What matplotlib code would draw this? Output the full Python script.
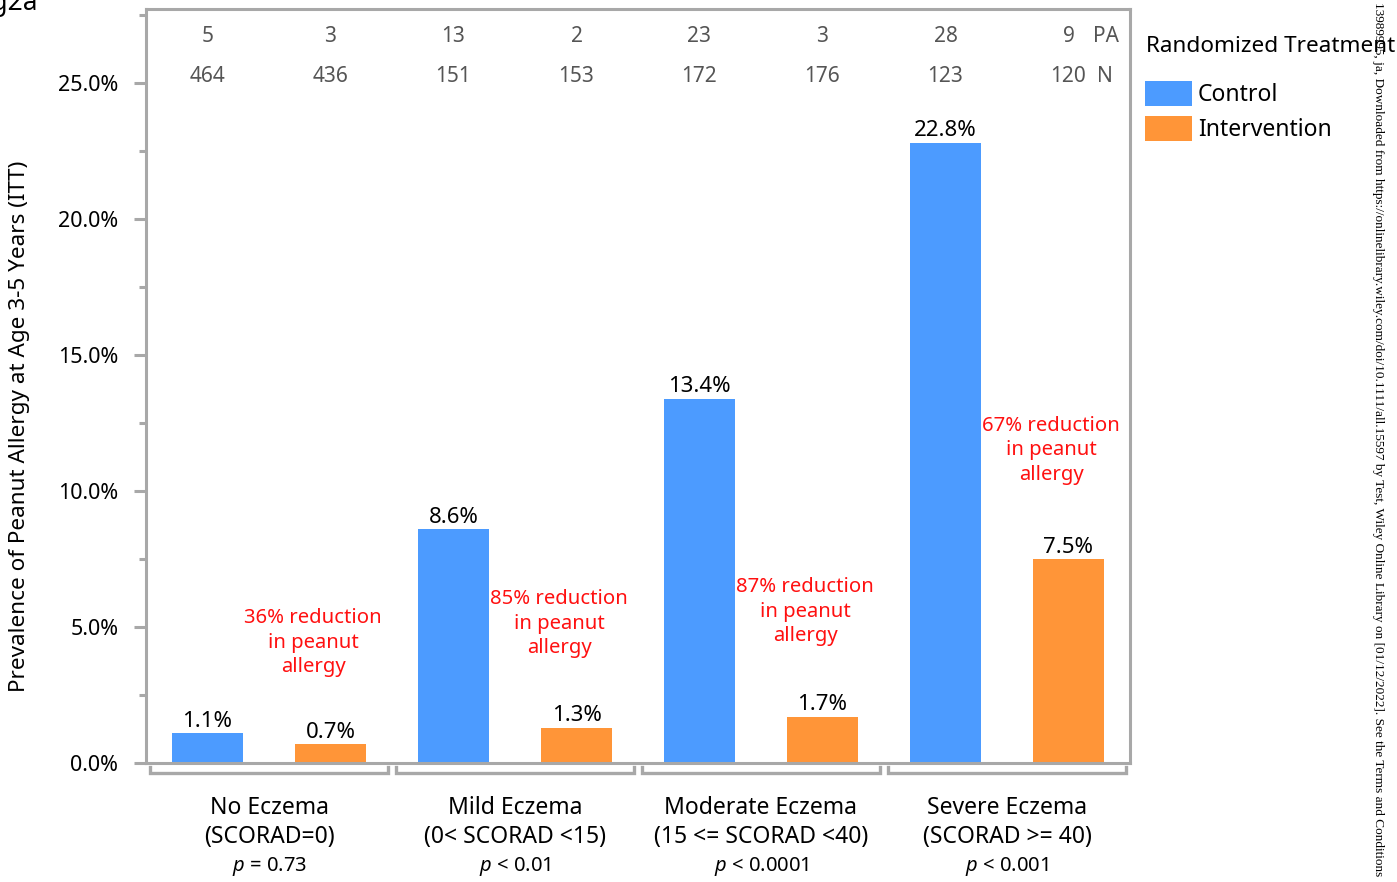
import matplotlib
matplotlib.use("Agg")
import matplotlib.pyplot as plt
from matplotlib.patches import Rectangle
from matplotlib.ticker import MultipleLocator, FuncFormatter
from matplotlib.transforms import blended_transform_factory
import numpy as np

# ---------------- data ----------------
groups = ["No Eczema", "Mild Eczema", "Moderate Eczema", "Severe Eczema"]
scorad = ["(SCORAD=0)", "(0< SCORAD <15)", "(15 <= SCORAD <40)", "(SCORAD >= 40)"]
pvals = ["= 0.73", "< 0.01", "< 0.0001", "< 0.001"]
series_names = ["Control", "Intervention"]
control = [1.1, 8.6, 13.4, 22.8]
intervention = [0.7, 1.3, 1.7, 7.5]
pa_control = [5, 13, 23, 28]
pa_interv = [3, 2, 3, 9]
n_control = [464, 151, 172, 123]
n_interv = [436, 153, 176, 120]
reductions = ["36%", "85%", "87%", "67%"]
red_text_y = [4.42, 5.12, 5.56, 11.49]  # vertical placement of annotations (%)

# ---------------- style ----------------
plt.rcParams['font.family'] = ['Noto Sans', 'DejaVu Sans']
plt.rcParams['mathtext.fontset'] = 'custom'
plt.rcParams['mathtext.it'] = 'Noto Sans:italic'
plt.rcParams['mathtext.rm'] = 'Noto Sans'

BLUE = "#4C9BFF"
ORANGE = "#FF9538"
GRAY = "#A8A8A8"
TXTGRAY = "#555555"

W, H = 1397, 882
fig = plt.figure(figsize=(W / 100, H / 100), dpi=100)
L, R, T, B = 146, 1130, 9, 763
ax = fig.add_axes([L / W, 1 - B / H, (R - L) / W, (B - T) / H])

xc = np.arange(len(groups)) * 2
xi = xc + 1
bw = 0.57
ax.bar(xc, control, width=bw, color=BLUE, zorder=2)
ax.bar(xi, intervention, width=bw, color=ORANGE, zorder=2)

ax.set_xlim(-0.5, 7.5)
ax.set_ylim(0, 27.72)

for s in ax.spines.values():
    s.set_color(GRAY)
    s.set_linewidth(2.2)

ax.yaxis.set_major_locator(MultipleLocator(5))
ax.yaxis.set_minor_locator(MultipleLocator(2.5))
ax.yaxis.set_major_formatter(FuncFormatter(lambda v, p: f"{v:.1f}%"))
ax.tick_params(axis='y', which='major', length=9, width=2.2, color=GRAY,
               labelsize=15.5, pad=11, labelcolor='black')
ax.tick_params(axis='y', which='minor', length=5, width=2.2, color=GRAY)
ax.set_xticks([])

# value labels
for x, v in zip(xc, control):
    ax.annotate(f"{v:.1f}%", (x, v), xytext=(0, 1.0), textcoords='offset points',
                ha='center', va='bottom', fontsize=16, color='black')
for x, v in zip(xi, intervention):
    ax.annotate(f"{v:.1f}%", (x, v), xytext=(0, 1.0), textcoords='offset points',
                ha='center', va='bottom', fontsize=16, color='black')

# reduction annotations
for x, r, y in zip(xi, reductions, red_text_y):
    ax.text(x - 0.14, y, f"{r} reduction\nin peanut\nallergy", ha='center', va='center',
            color='#FF1010', fontsize=14.6, linespacing=1.3)

# counts along top
tb = blended_transform_factory(ax.transData, ax.transAxes)
ya_pa = (B - 37) / (B - T)
ya_n = (B - 77) / (B - T)
for x, pa, n in zip(xc, pa_control, n_control):
    ax.text(x, ya_pa, str(pa), ha='center', va='center', fontsize=15, color=TXTGRAY, transform=tb)
    ax.text(x, ya_n, str(n), ha='center', va='center', fontsize=15, color=TXTGRAY, transform=tb)
for x, pa, n in zip(xi, pa_interv, n_interv):
    ax.text(x, ya_pa, str(pa), ha='center', va='center', fontsize=15, color=TXTGRAY, transform=tb)
    ax.text(x, ya_n, str(n), ha='center', va='center', fontsize=15, color=TXTGRAY, transform=tb)
ax.text(7.2, ya_pa, "PA", ha='left', va='center', fontsize=15, color=TXTGRAY, transform=tb)
ax.text(7.23, ya_n, "N", ha='left', va='center', fontsize=15, color=TXTGRAY, transform=tb)

# group brackets and labels below
yb = (B - 773) / (B - T)
ye = (B - 767) / (B - T)
for k, gx in enumerate(xc):
    x0, x1 = gx - 0.467, gx + 1.467
    ax.plot([x0, x0, x1, x1], [ye, yb, yb, ye], color=GRAY, lw=2.4,
            transform=tb, clip_on=False, solid_joinstyle='miter')
    cx = gx + 0.5
    ax.text(cx, (B - 808) / (B - T), groups[k], ha='center', va='center', fontsize=16.5,
            color='black', transform=tb)
    ax.text(cx, (B - 837) / (B - T), scorad[k], ha='center', va='center', fontsize=16.5,
            color='black', transform=tb)
    ax.text(cx, (B - 867) / (B - T), r"$p$ " + pvals[k], ha='center', va='center', fontsize=14.5,
            color='black', transform=tb)

# y label
fig.text(20 / W, 1 - 426 / H, "Prevalence of Peanut Allergy at Age 3-5 Years (ITT)",
         rotation=90, ha='center', va='center', fontsize=16.2, color='black')

# legend (drawn in figure pixels)
fig.text(1146 / W, 1 - 46 / H, "Randomized Treatment", ha='left', va='center',
         fontsize=16.2, color='black')
colors = [BLUE, ORANGE]
for k, (name, col) in enumerate(zip(series_names, colors)):
    top = 81 + k * 35
    fig.patches.append(Rectangle((1145 / W, 1 - (top + 25) / H), 47 / W, 25 / H,
                                 transform=fig.transFigure, facecolor=col, edgecolor='none'))
    fig.text(1198 / W, 1 - (top + 14) / H, name, ha='left', va='center',
             fontsize=16.5, color='black')

# cropped panel tag and watermark
fig.text(38 / W, 1 - 10 / H, "Fig2a", ha='right', va='baseline', fontsize=19,
         fontweight='bold', color='black')
fig.text(1378 / W, 1 - 2 / H,
         "13989995, ja, Downloaded from https://onlinelibrary.wiley.com/doi/10.1111/all.15597 by Test, "
         "Wiley Online Library on [01/12/2022]. See the Terms and Conditions",
         rotation=-90, ha='center', va='top', fontsize=9.55, color='black',
         fontfamily='Liberation Serif')

fig.savefig("out.png", dpi=100)
